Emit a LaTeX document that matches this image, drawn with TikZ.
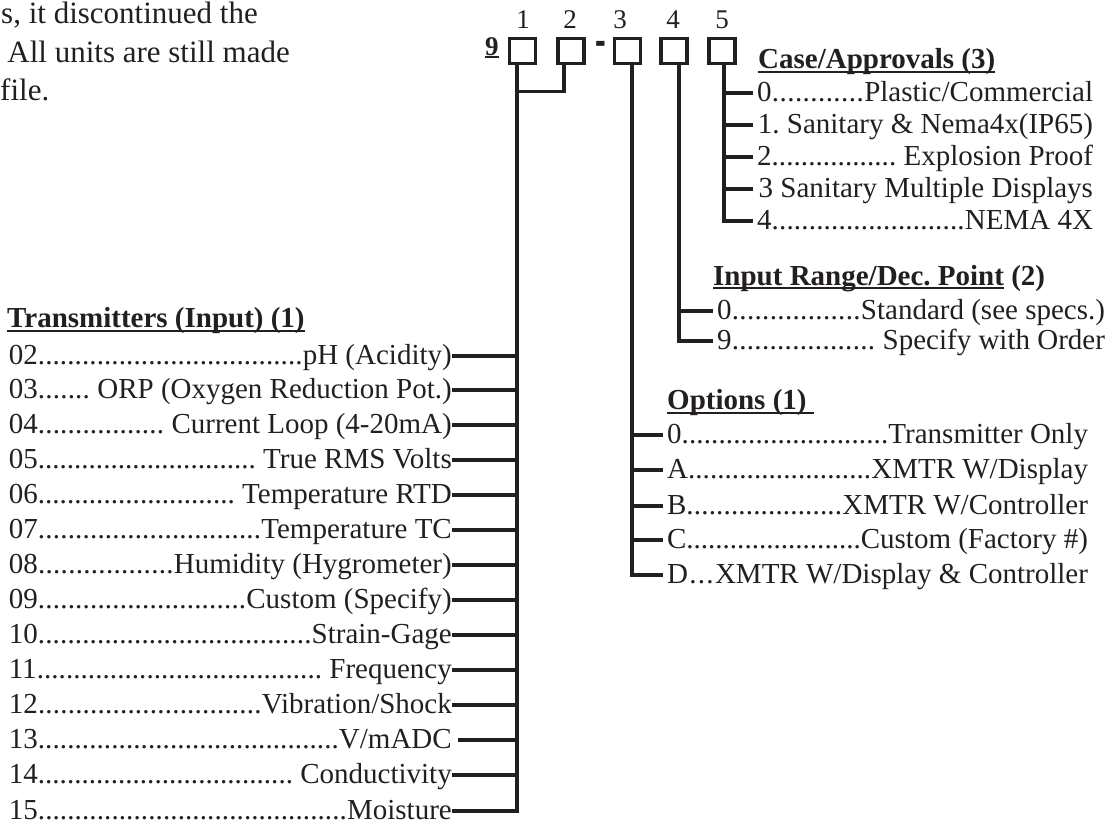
\documentclass[tikz,border=0pt]{standalone}
\usepackage{fontspec}
\setmainfont{Liberation Serif}
\usepackage{graphicx}
\usetikzlibrary{positioning}

\definecolor{ink}{HTML}{231F20}
\newsavebox{\ulbox}
\newcommand{\undl}[2][5.5pt]{\sbox{\ulbox}{#2}\rlap{\rule[-#1]{\wd\ulbox}{1.8pt}}\usebox{\ulbox}}
\newcommand{\dotrow}[3]{\hbox to #1{#2\xleaders\hbox{.}\hfill#3}}
\newcommand{\plainrow}[2]{\hbox to #1{\hss#2}}
\frenchspacing

\begin{document}
\begin{tikzpicture}[
  x=1pt, y=-1pt,
  font=\fontsize{29}{34}\selectfont,
  text=ink,
  slot/.style={
    rectangle, draw=ink, line width=3.2pt,
    minimum width=26pt, minimum height=25.5pt, inner sep=0pt
  },
  digit/.style={font=\fontsize{27}{32}\selectfont, anchor=base, inner sep=0pt},
  head/.style={font=\fontsize{29}{34}\selectfont\bfseries, anchor=base west, inner sep=0pt},
  item/.style={inner sep=0pt, text height=16pt, text depth=0pt},
  itemr/.style={item, anchor=west, outer xsep=4pt},
  iteml/.style={item, anchor=east},
  link/.style={draw=ink, line width=3.3pt},
]
\useasboundingbox (0,0) rectangle (1111,822);

% Cut-off text at top left
\node[font=\fontsize{31}{40}\selectfont, anchor=base east, inner sep=0pt] (txa) at (258,23) {s, it discontinued the};
\node[font=\fontsize{31}{40}\selectfont, anchor=base east, inner sep=0pt] (txb) at (290,62) {All units are still made};
\node[font=\fontsize{31}{40}\selectfont, anchor=base west, inner sep=0pt] (txc) at (0,100) {file.};

% Model number slots
\node[digit, font=\fontsize{27}{32}\selectfont\bfseries, anchor=base west] (nine) at (485,55) {\undl[3pt]{9}};
\node[slot] (b1) at (522.5,51) {};
\node[slot] (b2) at (571,51) {};
\node[font=\fontsize{29}{34}\selectfont\bfseries, anchor=base, inner sep=0pt] (dash) at (601,57) {\scalebox{1.1}[2]{-}};
\node[slot] (b3) at (627.5,51) {};
\node[slot] (b4) at (674,51) {};
\node[slot] (b5) at (722,51) {};

\node[digit] (n1) at (523,28) {1};
\node[digit] (n2) at (570,28) {2};
\node[digit] (n3) at (620,28) {3};
\node[digit] (n4) at (673,28) {4};
\node[digit] (n5) at (722,28) {5};

\coordinate (s1) at ([xshift=-5.5pt]b1.south);
\coordinate (s2) at ([xshift=-7pt]b2.south);
\coordinate (s3) at ([xshift=4.5pt]b3.south);
\coordinate (s4) at ([xshift=5pt]b4.south);
\coordinate (s5) at ([xshift=2pt]b5.south);
\coordinate (j12) at ([yshift=-26pt]s2);

% Case/Approvals (slot 5)
\node[head] (hcase) at (758,68) {\undl[5pt]{Case/Approvals (3)}};
\node[itemr] (c0) at (753,93)  {\dotrow{336pt}{0}{Plastic/Commercial}};
\node[itemr] (c1) at (753,125) {\plainrow{336pt}{1. Sanitary \& Nema4x(IP65)}};
\node[itemr] (c2) at (753,157) {\dotrow{336pt}{2}{ Explosion Proof}};
\node[itemr] (c3) at (753,189) {\plainrow{336pt}{3 Sanitary Multiple Displays}};
\node[itemr] (c4) at (753,221) {\dotrow{336pt}{4}{NEMA 4X}};

% Input range (slot 4)
\node[head] (hrange) at (713,285) {\undl[4pt]{Input Range/Dec. Point} (2)};
\node[itemr] (r0) at (713,311) {\dotrow{388pt}{0}{Standard (see specs.)}};
\node[itemr] (r9) at (713,341) {\dotrow{388pt}{9}{ Specify with Order}};

% Options (slot 3)
\node[head] (hopt) at (667,409) {\undl[5pt]{Options (1)~}};
\node[itemr] (o0) at (663,435) {\dotrow{421pt}{0}{Transmitter Only}};
\node[itemr] (oA) at (663,470) {\dotrow{421pt}{A}{XMTR W/Display}};
\node[itemr] (oB) at (663,506) {\dotrow{421pt}{B}{XMTR W/Controller}};
\node[itemr] (oC) at (663,540) {\dotrow{421pt}{C}{Custom (Factory \#)}};
\node[itemr] (oD) at (663,575) {\dotrow{421pt}{D}{XMTR W/Display \& Controller}};

% Transmitters (slots 1 and 2)
\node[head] (htx) at (7,327) {\undl[5pt]{Transmitters (Input) (1)}};
\node[iteml] (t02) at (452,356) {\dotrow{443pt}{02}{pH (Acidity)}};
\node[iteml] (t03) at (452,390) {\dotrow{443pt}{03}{ ORP (Oxygen Reduction Pot.)}};
\node[iteml] (t04) at (452,425) {\dotrow{443pt}{04}{ Current Loop (4-20mA)}};
\node[iteml] (t05) at (452,460) {\dotrow{443pt}{05}{ True RMS Volts}};
\node[iteml] (t06) at (452,495) {\dotrow{443pt}{06}{ Temperature RTD}};
\node[iteml] (t07) at (452,530) {\dotrow{443pt}{07}{Temperature TC}};
\node[iteml] (t08) at (452,565) {\dotrow{443pt}{08}{Humidity (Hygrometer)}};
\node[iteml] (t09) at (452,600) {\dotrow{443pt}{09}{Custom (Specify)}};
\node[iteml] (t10) at (452,635) {\dotrow{443pt}{10}{Strain-Gage}};
\node[iteml] (t11) at (452,670) {\dotrow{443pt}{11}{ Frequency}};
\node[iteml] (t12) at (452,705) {\dotrow{443pt}{12}{Vibration/Shock}};
\node[iteml] (t13) at (452,740) {\dotrow{443pt}{13}{V/mADC}};
\node[iteml] (t14) at (452,775) {\dotrow{443pt}{14}{ Conductivity}};
\node[iteml] (t15) at (452,811) {\dotrow{443pt}{15}{Moisture}};

% Stems and branches
\draw[link] (s2) -- (j12) -- (j12 -| s1);
\draw[link] (s1) |- (t15.east);
\draw[link] (t02.east) -- (t02.east -| s1);
\draw[link] (t03.east) -- (t03.east -| s1);
\draw[link] (t04.east) -- (t04.east -| s1);
\draw[link] (t05.east) -- (t05.east -| s1);
\draw[link] (t06.east) -- (t06.east -| s1);
\draw[link] (t07.east) -- (t07.east -| s1);
\draw[link] (t08.east) -- (t08.east -| s1);
\draw[link] (t09.east) -- (t09.east -| s1);
\draw[link] (t10.east) -- (t10.east -| s1);
\draw[link] (t11.east) -- (t11.east -| s1);
\draw[link] (t12.east) -- (t12.east -| s1);
\draw[link] ([xshift=6pt]t13.east) -- (t13.east -| s1);
\draw[link] (t14.east) -- (t14.east -| s1);

\draw[link] (s3) |- (oD.west);
\draw[link] (o0.west -| s3) -- (o0.west);
\draw[link] (oA.west -| s3) -- (oA.west);
\draw[link] (oB.west -| s3) -- (oB.west);
\draw[link] (oC.west -| s3) -- (oC.west);

\draw[link] (s4) |- (r9.west);
\draw[link] (r0.west -| s4) -- (r0.west);

\draw[link] (s5) |- (c4.west);
\draw[link] (c0.west -| s5) -- (c0.west);
\draw[link] (c1.west -| s5) -- (c1.west);
\draw[link] (c2.west -| s5) -- (c2.west);
\draw[link] (c3.west -| s5) -- (c3.west);

\end{tikzpicture}
\end{document}
